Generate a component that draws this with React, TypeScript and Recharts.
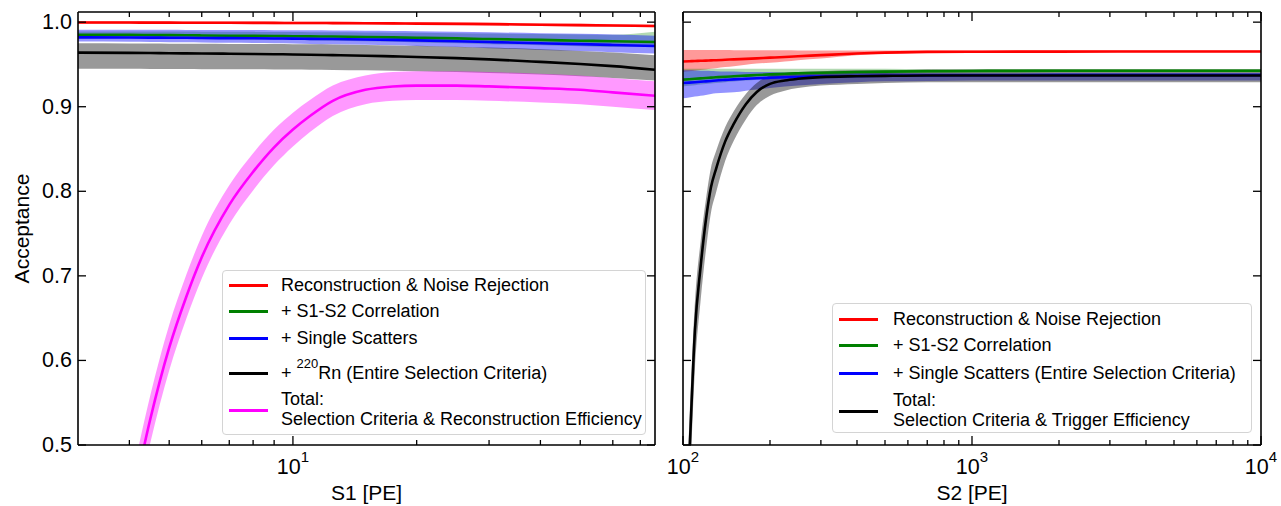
import React from 'react';
import { ComposedChart, Line, Area, XAxis, YAxis } from 'recharts';

// ---- S1 panel (left) ----
const S1 = [3, 4, 4.5, 5, 5.5, 6, 7, 8, 9, 10, 11, 12.5, 15, 17.5, 20, 25, 30, 40, 50, 60, 76];

const S1_RED = [0.9995, 0.9995, 0.9994, 0.9994, 0.9993, 0.9993, 0.9992, 0.9992, 0.9991, 0.999, 0.999, 0.9989, 0.9987, 0.9985, 0.9983, 0.998, 0.9977, 0.997, 0.9965, 0.996, 0.9955];
const S1_RED_LO = [0.998, 0.998, 0.9979, 0.9979, 0.9978, 0.9978, 0.9977, 0.9977, 0.9976, 0.9975, 0.9975, 0.9974, 0.9972, 0.997, 0.9968, 0.9965, 0.9962, 0.9955, 0.995, 0.9945, 0.994];
const S1_RED_HI = [1.001, 1.001, 1.0009, 1.0009, 1.0008, 1.0008, 1.0007, 1.0007, 1.0006, 1.0005, 1.0005, 1.0004, 1.0002, 1.0, 0.9998, 0.9995, 0.9992, 0.9985, 0.998, 0.9975, 0.997];

const S1_GREEN = [0.985, 0.985, 0.9848, 0.9846, 0.9845, 0.9843, 0.984, 0.9838, 0.9836, 0.9834, 0.9832, 0.983, 0.9825, 0.982, 0.9815, 0.9808, 0.98, 0.979, 0.978, 0.9775, 0.9765];
const S1_GREEN_LO = [0.981, 0.981, 0.9807, 0.9805, 0.9803, 0.9801, 0.9797, 0.9794, 0.9791, 0.9788, 0.9785, 0.978, 0.9774, 0.9767, 0.976, 0.975, 0.974, 0.9728, 0.9715, 0.9705, 0.9715];
const S1_GREEN_HI = [0.989, 0.989, 0.9889, 0.9888, 0.9888, 0.9887, 0.9886, 0.9885, 0.9884, 0.9883, 0.9882, 0.988, 0.9878, 0.9876, 0.9874, 0.987, 0.9866, 0.986, 0.9855, 0.985, 0.9885];

const S1_BLUE = [0.982, 0.9818, 0.9817, 0.9816, 0.9815, 0.9813, 0.9811, 0.9809, 0.9807, 0.9805, 0.9802, 0.98, 0.9795, 0.979, 0.9785, 0.9775, 0.9765, 0.975, 0.974, 0.973, 0.9718];
const S1_BLUE_LO = [0.977, 0.9767, 0.9765, 0.9763, 0.9761, 0.9759, 0.9756, 0.9753, 0.975, 0.9747, 0.9743, 0.974, 0.9733, 0.9726, 0.9719, 0.9705, 0.9692, 0.9672, 0.9658, 0.9645, 0.9628];
const S1_BLUE_HI = [0.991, 0.991, 0.9909, 0.9909, 0.9908, 0.9908, 0.9907, 0.9906, 0.9905, 0.9904, 0.9903, 0.9901, 0.9898, 0.9895, 0.9892, 0.9886, 0.988, 0.987, 0.9862, 0.9855, 0.984];

const S1_BLACK = [0.964, 0.9637, 0.9635, 0.9633, 0.9631, 0.963, 0.9627, 0.9624, 0.9621, 0.9618, 0.9615, 0.961, 0.9603, 0.9595, 0.9588, 0.9575, 0.956, 0.953, 0.9505, 0.948, 0.9437];
const S1_GRAY_LO = [0.945, 0.9448, 0.9447, 0.9446, 0.9445, 0.9444, 0.9443, 0.9442, 0.9441, 0.944, 0.9438, 0.9435, 0.943, 0.9425, 0.942, 0.941, 0.94, 0.938, 0.936, 0.934, 0.931];
const S1_GRAY_HI = [0.975, 0.9748, 0.9747, 0.9746, 0.9745, 0.9744, 0.9743, 0.9742, 0.9741, 0.974, 0.9738, 0.9735, 0.973, 0.9725, 0.972, 0.971, 0.97, 0.968, 0.966, 0.964, 0.961];

const S1_MAG = [null, 0.417, 0.531, 0.615, 0.675, 0.722, 0.784, 0.823, 0.852, 0.873, 0.889, 0.907, 0.92, 0.924, 0.925, 0.925, 0.924, 0.922, 0.92, 0.917, 0.913];
const S1_MAG_LO = [null, 0.387, 0.503, 0.588, 0.649, 0.697, 0.761, 0.801, 0.831, 0.853, 0.87, 0.889, 0.903, 0.907, 0.908, 0.908, 0.907, 0.905, 0.903, 0.9, 0.896];
const S1_MAG_HI = [null, 0.447, 0.559, 0.642, 0.701, 0.747, 0.807, 0.845, 0.873, 0.893, 0.908, 0.925, 0.937, 0.941, 0.942, 0.942, 0.941, 0.939, 0.937, 0.934, 0.93];

// ---- S2 panel (right) ----
const S2 = [100, 105, 110, 115, 120, 125, 130, 140, 150, 165, 180, 200, 225, 250, 300, 400, 500, 700, 1000, 2000, 5000, 10000];

const S2_RED = [0.9535, 0.9538, 0.954, 0.9543, 0.9545, 0.9548, 0.955, 0.9555, 0.956, 0.9566, 0.9572, 0.958, 0.9588, 0.9596, 0.961, 0.963, 0.964, 0.9648, 0.965, 0.9652, 0.9653, 0.9653];
const S2_RED_LO = [0.941, 0.9418, 0.9425, 0.9433, 0.944, 0.9448, 0.9455, 0.947, 0.948, 0.9495, 0.951, 0.952, 0.9535, 0.955, 0.957, 0.961, 0.9625, 0.9638, 0.9642, 0.9644, 0.9644, 0.9644];
const S2_RED_HI = [0.967, 0.967, 0.967, 0.967, 0.967, 0.967, 0.967, 0.967, 0.9668, 0.9668, 0.9668, 0.9667, 0.9667, 0.9666, 0.9666, 0.9665, 0.9665, 0.9665, 0.9665, 0.9665, 0.9665, 0.9665];

const S2_GREEN = [0.932, 0.9325, 0.933, 0.9335, 0.934, 0.9344, 0.9348, 0.9355, 0.936, 0.9368, 0.9375, 0.9382, 0.939, 0.9395, 0.9402, 0.941, 0.9415, 0.942, 0.9423, 0.9425, 0.9425, 0.9425];
const S2_GREEN_LO = [0.924, 0.9248, 0.9255, 0.9262, 0.9268, 0.9274, 0.928, 0.929, 0.9298, 0.931, 0.932, 0.933, 0.934, 0.9348, 0.936, 0.9378, 0.9388, 0.9398, 0.9403, 0.9405, 0.9405, 0.9405];
const S2_GREEN_HI = [0.945, 0.945, 0.945, 0.945, 0.945, 0.945, 0.945, 0.945, 0.945, 0.945, 0.945, 0.945, 0.945, 0.945, 0.945, 0.945, 0.945, 0.9445, 0.9443, 0.9445, 0.9445, 0.9445];

const S2_BLUE = [0.928, 0.9285, 0.929, 0.9295, 0.93, 0.9305, 0.931, 0.9317, 0.9323, 0.933, 0.9336, 0.9342, 0.9348, 0.9352, 0.9358, 0.9364, 0.9367, 0.937, 0.9372, 0.9373, 0.9373, 0.9373];
const S2_BLUE_LO = [0.91, 0.911, 0.912, 0.913, 0.914, 0.915, 0.9158, 0.9165, 0.917, 0.919, 0.9205, 0.922, 0.9238, 0.925, 0.927, 0.929, 0.93, 0.9305, 0.931, 0.931, 0.931, 0.931];
const S2_BLUE_HI = [0.943, 0.943, 0.9428, 0.9426, 0.9424, 0.9422, 0.942, 0.9417, 0.9415, 0.9412, 0.941, 0.941, 0.9405, 0.9402, 0.94, 0.94, 0.94, 0.94, 0.94, 0.94, 0.94, 0.94];

const S2_BLACK = [0.32, 0.48, 0.636, 0.71, 0.766, 0.805, 0.826, 0.859, 0.88, 0.903, 0.9175, 0.927, 0.931, 0.933, 0.935, 0.936, 0.9365, 0.937, 0.937, 0.937, 0.937, 0.937];
const S2_GRAY_LO = [0.27, 0.43, 0.59, 0.67, 0.73, 0.775, 0.798, 0.836, 0.86, 0.885, 0.902, 0.913, 0.919, 0.922, 0.925, 0.927, 0.928, 0.929, 0.929, 0.929, 0.929, 0.929];
const S2_GRAY_HI = [0.36, 0.52, 0.67, 0.74, 0.79, 0.828, 0.847, 0.876, 0.895, 0.915, 0.928, 0.937, 0.94, 0.941, 0.942, 0.943, 0.943, 0.944, 0.944, 0.944, 0.944, 0.944];

// ---- ticks & labels ----
const Y_TICKS = [0.5, 0.6, 0.7, 0.8, 0.9, 1.0];
const S1_TICKS = [4, 5, 6, 7, 8, 9, 10, 20, 30, 40, 50, 60, 70];
const S1_MAJORS: Record<number, string> = { 10: '1' };
const S2_TICKS = [100, 200, 300, 400, 500, 600, 700, 800, 900, 1000, 2000, 3000, 4000, 5000, 6000, 7000, 8000, 9000, 10000];
const S2_MAJORS: Record<number, string> = { 100: '2', 1000: '3', 10000: '4' };

const LEFT_LEGEND = [
  { color: '#ff0000', label: 'Reconstruction & Noise Rejection' },
  { color: '#008000', label: '+ S1-S2 Correlation' },
  { color: '#0000ff', label: '+ Single Scatters' },
  { color: '#000000', label: 'rn' },
  { color: '#ff00ff', label: 'Total:\nSelection Criteria & Reconstruction Efficiency' },
];
const RIGHT_LEGEND = [
  { color: '#ff0000', label: 'Reconstruction & Noise Rejection' },
  { color: '#008000', label: '+ S1-S2 Correlation' },
  { color: '#0000ff', label: '+ Single Scatters (Entire Selection Criteria)' },
  { color: '#000000', label: 'Total:\nSelection Criteria & Trigger Efficiency' },
];

const band = (lo: (number | null)[], hi: (number | null)[], i: number) =>
  lo[i] == null || hi[i] == null ? null : [lo[i], hi[i]];

const s1Data = S1.map((x, i) => ({
  x,
  red: S1_RED[i], redBand: band(S1_RED_LO, S1_RED_HI, i),
  green: S1_GREEN[i], greenBand: band(S1_GREEN_LO, S1_GREEN_HI, i),
  blue: S1_BLUE[i], blueBand: band(S1_BLUE_LO, S1_BLUE_HI, i),
  black: S1_BLACK[i], blackBand: band(S1_GRAY_LO, S1_GRAY_HI, i),
  mag: S1_MAG[i], magBand: band(S1_MAG_LO, S1_MAG_HI, i),
}));

const s2Data = S2.map((x, i) => ({
  x,
  red: S2_RED[i], redBand: band(S2_RED_LO, S2_RED_HI, i),
  green: S2_GREEN[i], greenBand: band(S2_GREEN_LO, S2_GREEN_HI, i),
  blue: S2_BLUE[i], blueBand: band(S2_BLUE_LO, S2_BLUE_HI, i),
  black: S2_BLACK[i], blackBand: band(S2_GRAY_LO, S2_GRAY_HI, i),
}));

const FONT = '"Liberation Sans", Arial, Helvetica, sans-serif';
const SPINE = { stroke: '#000', strokeWidth: 1.6 };
const TICK_W = 1.3;
const TICK_FS = 21.5;

const BottomTick = ({ x, y, payload, majors }: any) => {
  const exp = majors[payload.value];
  const major = exp !== undefined;
  return (
    <g>
      <line x1={x} x2={x} y1={y} y2={y - (major ? 9 : 5)} stroke="#000" strokeWidth={TICK_W} />
      {major && (
        <text x={x} y={y + 29} textAnchor="middle" fontSize={TICK_FS} fill="#000" fontFamily={FONT}>
          10<tspan dy={-12} fontSize={15}>{exp}</tspan>
        </text>
      )}
    </g>
  );
};

const TopTick = ({ x, y, payload, majors }: any) => {
  const major = majors[payload.value] !== undefined;
  return <line x1={x} x2={x} y1={y} y2={y + (major ? 9 : 5)} stroke="#000" strokeWidth={TICK_W} />;
};

const LeftTick = ({ x, y, payload, showLabel }: any) => (
  <g>
    <line x1={x} x2={x + 8} y1={y} y2={y} stroke="#000" strokeWidth={TICK_W} />
    {showLabel && (
      <text x={x - 6} y={y} textAnchor="end" dominantBaseline="central" fontSize={TICK_FS} fill="#000" fontFamily={FONT}>
        {Number(payload.value).toFixed(1)}
      </text>
    )}
  </g>
);

const RightTick = ({ x, y }: any) => (
  <line x1={x} x2={x - 8} y1={y} y2={y} stroke="#000" strokeWidth={TICK_W} />
);

const series = (withMag: boolean) => {
  const items = [
    { key: 'red', color: '#ff0000', op: 0.4 },
    { key: 'green', color: '#008000', op: 0.3 },
    { key: 'blue', color: '#0000ff', op: 0.42 },
    { key: 'black', color: '#000000', op: 0.4 },
  ];
  if (withMag) items.push({ key: 'mag', color: '#ff00ff', op: 0.4 });
  const out: React.ReactNode[] = [];
  items.forEach((s) => {
    out.push(
      <Area key={s.key + 'Band'} dataKey={s.key + 'Band'} type="monotone" stroke="none" fill={s.color}
        fillOpacity={s.op} dot={false} activeDot={false} isAnimationActive={false} />
    );
  });
  items.forEach((s) => {
    out.push(
      <Line key={s.key} dataKey={s.key} type="monotone" stroke={s.color} strokeWidth={2.6}
        dot={false} activeDot={false} isAnimationActive={false} />
    );
  });
  return out;
};

const LegendBox = ({ items, left, top, width, height, rows, textLeft }: any) => (
  <div style={{
    position: 'absolute', left, top, width, height, boxSizing: 'border-box',
    border: '1px solid #d4d4d4', borderRadius: 4, background: 'rgba(255,255,255,0.8)',
    fontFamily: FONT, fontSize: 18, color: '#000',
  }}>
    {items.map((it: any, i: number) => {
      const r = rows[i];
      const lines: string[] = it.label.split('\n');
      return (
        <React.Fragment key={i}>
          <div style={{ position: 'absolute', left: 6, width: 39, height: 3, top: r.handle - 1.5, background: it.color }} />
          {it.label === 'rn' ? (
            <div style={{ position: 'absolute', left: textLeft, top: r.lines[0] - 10, lineHeight: '20px', whiteSpace: 'nowrap' }}>
              + <span style={{ fontSize: 13, position: 'relative', top: -11 }}>220</span>Rn (Entire Selection Criteria)
            </div>
          ) : (
            lines.map((t, j) => (
              <div key={j} style={{ position: 'absolute', left: textLeft, top: r.lines[j] - 10, lineHeight: '20px', whiteSpace: 'nowrap' }}>
                {t}
              </div>
            ))
          )}
        </React.Fragment>
      );
    })}
  </div>
);

const LEFT_ROWS = [
  { handle: 14, lines: [14] },
  { handle: 40, lines: [40] },
  { handle: 67, lines: [67] },
  { handle: 102, lines: [102] },
  { handle: 139, lines: [128, 148] },
];
const RIGHT_ROWS = [
  { handle: 15, lines: [15] },
  { handle: 41, lines: [41] },
  { handle: 69, lines: [69] },
  { handle: 107, lines: [96, 116] },
];

const axisLabel = { fontSize: 21, fill: '#000', fontFamily: FONT };

export default function App() {
  return (
    <div style={{ position: 'absolute', left: 0, top: 0, width: 1281, height: 506, background: '#fff', fontFamily: FONT }}>
      <div style={{ position: 'absolute', left: 0, top: 0 }}>
        <ComposedChart width={660} height={506} data={s1Data} margin={{ top: 11, right: 4, bottom: 0, left: 0 }}>
          <XAxis dataKey="x" type="number" scale="log" domain={[3, 76]} ticks={S1_TICKS} interval={0}
            allowDataOverflow height={61} tickSize={0} tickMargin={0} tickLine={false} axisLine={SPINE}
            tick={<BottomTick majors={S1_MAJORS} />}
            label={{ value: 'S1 [PE]', position: 'insideBottom', offset: 6, ...axisLabel }} />
          <XAxis xAxisId="top" orientation="top" dataKey="x" type="number" scale="log" domain={[3, 76]}
            ticks={S1_TICKS} interval={0} allowDataOverflow height={1} tickSize={0} tickMargin={0}
            tickLine={false} axisLine={SPINE} tick={<TopTick majors={S1_MAJORS} />} />
          <YAxis type="number" domain={[0.5, 1.012]} ticks={Y_TICKS} interval={0} allowDataOverflow width={78}
            tickSize={0} tickMargin={0} tickLine={false} axisLine={SPINE} tick={<LeftTick showLabel />}
            label={{ value: 'Acceptance', angle: -90, position: 'insideLeft', offset: 22, ...axisLabel, style: { textAnchor: 'middle' } }} />
          <YAxis yAxisId="right" orientation="right" type="number" domain={[0.5, 1.012]} ticks={Y_TICKS}
            interval={0} allowDataOverflow width={1} tickSize={0} tickMargin={0} tickLine={false}
            axisLine={SPINE} tick={<RightTick />} />
          {series(true)}
        </ComposedChart>
      </div>
      <div style={{ position: 'absolute', left: 660, top: 0 }}>
        <ComposedChart width={621} height={506} data={s2Data} margin={{ top: 11, right: 19, bottom: 0, left: 0 }}>
          <XAxis dataKey="x" type="number" scale="log" domain={[100, 10000]} ticks={S2_TICKS} interval={0}
            allowDataOverflow height={61} tickSize={0} tickMargin={0} tickLine={false} axisLine={SPINE}
            tick={<BottomTick majors={S2_MAJORS} />}
            label={{ value: 'S2 [PE]', position: 'insideBottom', offset: 6, ...axisLabel }} />
          <XAxis xAxisId="top" orientation="top" dataKey="x" type="number" scale="log" domain={[100, 10000]}
            ticks={S2_TICKS} interval={0} allowDataOverflow height={1} tickSize={0} tickMargin={0}
            tickLine={false} axisLine={SPINE} tick={<TopTick majors={S2_MAJORS} />} />
          <YAxis type="number" domain={[0.5, 1.012]} ticks={Y_TICKS} interval={0} allowDataOverflow width={23}
            tickSize={0} tickMargin={0} tickLine={false} axisLine={SPINE} tick={<LeftTick showLabel={false} />} />
          <YAxis yAxisId="right" orientation="right" type="number" domain={[0.5, 1.012]} ticks={Y_TICKS}
            interval={0} allowDataOverflow width={1} tickSize={0} tickMargin={0} tickLine={false}
            axisLine={SPINE} tick={<RightTick />} />
          {series(false)}
        </ComposedChart>
      </div>
      <LegendBox items={LEFT_LEGEND} rows={LEFT_ROWS} left={222} top={270} width={424} height={165} textLeft={58} />
      <LegendBox items={RIGHT_LEGEND} rows={RIGHT_ROWS} left={832} top={303} width={420} height={130} textLeft={60} />
    </div>
  );
}
